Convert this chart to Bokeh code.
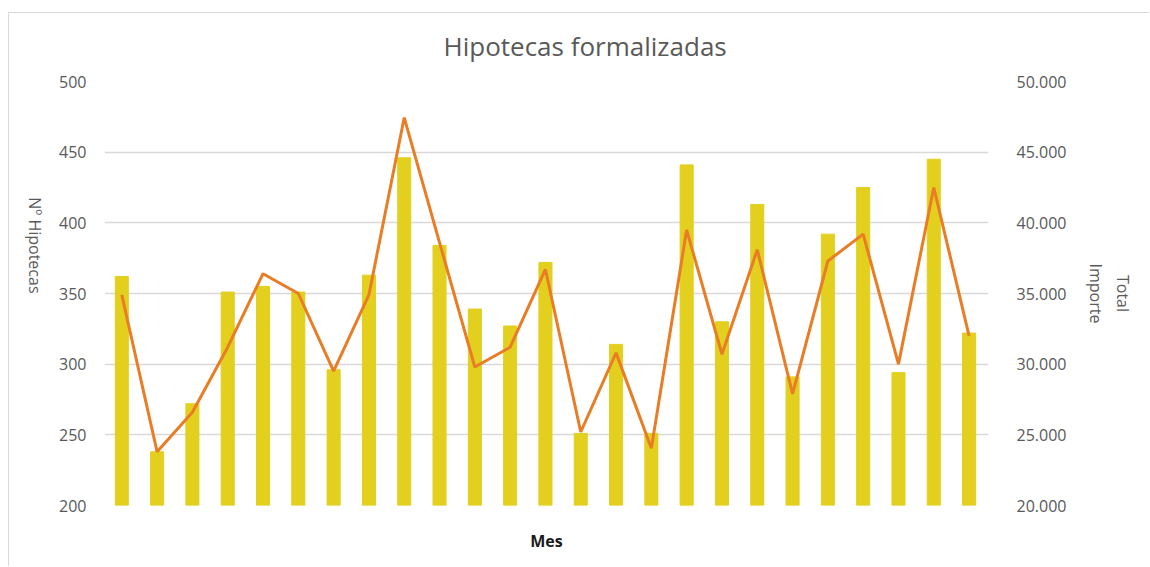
from bokeh.plotting import figure
from bokeh.models import Range1d, LinearAxis, FixedTicker, CustomJSTickFormatter
from bokeh.embed import file_html
from bokeh.resources import INLINE

# Data
meses = list(range(1, 26))
hipotecas = [362, 238, 272, 351, 355, 351, 296, 363, 446, 384, 339, 327, 372,
             251, 314, 251, 441, 330, 413, 291, 392, 425, 294, 445, 322]
importe = [34900, 23800, 26600, 31200, 36400, 35000, 29500, 34900, 47450, 38600,
           29800, 31200, 36700, 25200, 30800, 24050, 39500, 30700, 38100, 27900,
           37300, 39200, 30000, 42500, 32000]
left_ticks = [200, 250, 300, 350, 400, 450, 500]
right_ticks = [20000, 25000, 30000, 35000, 40000, 45000, 50000]

FONT = "Open Sans"
GREY = "#595959"

xs = [i for i in range(len(meses))]

p = figure(width=1141, height=554, output_backend="svg", toolbar_location=None,
           x_range=Range1d(-0.49, 24.55), y_range=Range1d(200, 500),
           min_border_left=95, min_border_right=162, min_border_top=68, min_border_bottom=62)
p.styles = {"border-left": "1px solid #d9d9d9", "border-top": "1px solid #d9d9d9",
            "margin-top": "12px", "margin-left": "8px"}
p.outline_line_color = None
p.background_fill_color = "white"
p.border_fill_color = "white"

xa = p.below[0]
ya = p.left[0]

# invisible spacer axis between title and plot area (white tick on white)
spacer = LinearAxis(ticker=FixedTicker(ticks=[0]))
spacer.axis_line_color = None
spacer.major_tick_line_color = "white"
spacer.major_tick_line_alpha = 0.0
spacer.minor_tick_line_color = None
spacer.major_label_text_font_size = "0px"
spacer.major_label_overrides = {0: ""}
spacer.major_label_standoff = 0
spacer.major_tick_out = 16
spacer.major_tick_in = 0
p.add_layout(spacer, "above")

p.title.text = "Hipotecas formalizadas"
p.title.text_font = FONT
p.title.text_font_size = "26px"
p.title.text_font_style = "normal"
p.title.text_color = GREY
p.title.align = "left"
p.title.offset = 339
p.title.standoff = 4

p.extra_y_ranges = {"imp": Range1d(20000, 50000)}

p.vbar(x=xs, top=hipotecas, bottom=200, width=0.37, color="#E3CF1E")
p.line(xs, importe, y_range_name="imp", line_color="#E97D26", line_width=3)

p.xgrid.visible = False
p.ygrid.grid_line_color = "#d9d9d9"
p.ygrid.grid_line_width = 1.3

xa.ticker = FixedTicker(ticks=[])
xa.axis_line_color = None
xa.major_tick_line_color = None
xa.minor_tick_line_color = None
xa.major_label_text_font_size = "0px"
xa.major_label_standoff = 0
xa.major_tick_out = 0
xa.axis_label = "Mes"
xa.axis_label_text_font = FONT
xa.axis_label_text_font_size = "16px"
xa.axis_label_text_font_style = "bold"
xa.axis_label_text_color = "#1a1a1a"
xa.axis_label_standoff = 24


def try_set(obj, **kw):
    for k, v in kw.items():
        try:
            setattr(obj, k, v)
        except Exception:
            pass


ya.ticker = FixedTicker(ticks=left_ticks)
ya.axis_line_color = None
ya.major_tick_line_color = None
ya.minor_tick_line_color = None
ya.major_label_text_font = FONT
ya.major_label_text_font_size = "16px"
ya.major_label_text_color = GREY
ya.major_label_standoff = 12
ya.axis_label = "Nº Hipotecas"
ya.axis_label_text_font = FONT
ya.axis_label_text_font_size = "16px"
ya.axis_label_text_font_style = "normal"
ya.axis_label_text_color = GREY
ya.axis_label_standoff = 21
try_set(ya, axis_label_orientation=-1.5708)

ra = LinearAxis(y_range_name="imp", ticker=FixedTicker(ticks=right_ticks),
                formatter=CustomJSTickFormatter(code="return (tick/1000).toFixed(3);"))
ra.axis_line_color = None
ra.major_tick_line_color = None
ra.minor_tick_line_color = None
ra.major_label_text_font = FONT
ra.major_label_text_font_size = "16px"
ra.major_label_text_color = GREY
ra.major_label_standoff = 22
ra.major_label_text_align = "left"
ra.axis_label = "Total\nImporte"
ra.axis_label_text_font = FONT
ra.axis_label_text_font_size = "16px"
ra.axis_label_text_font_style = "normal"
ra.axis_label_text_color = GREY
ra.axis_label_standoff = 16
p.add_layout(ra, "right")

open("out.html", "w").write(file_html(p, INLINE))
